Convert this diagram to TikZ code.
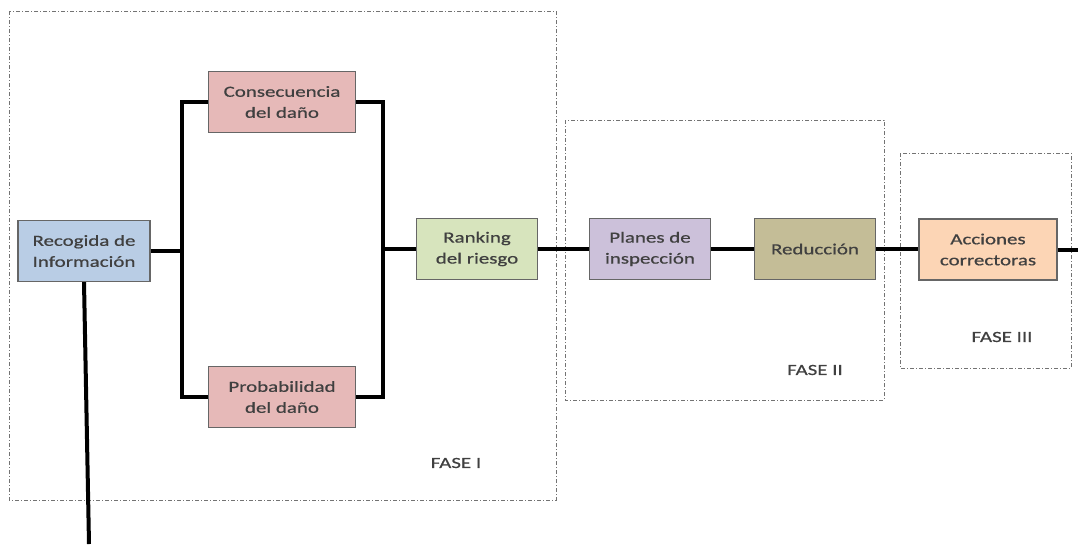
\documentclass[tikz,border=0pt]{standalone}
\usepackage{fontspec}
\setmainfont{Carlito}
\newfontfamily\boxfont[FakeStretch=1.35,FakeBold=0.6]{Carlito}
\begin{document}
\begin{tikzpicture}[x=1pt,y=-1pt,
  blk/.style={draw=black!60, line width=1.1pt, minimum width=#1, minimum height=61pt,
    inner sep=0pt, align=center, text=black!75,
    font=\boxfont\fontsize{15.5}{21}\selectfont},
  blk/.default=121pt,
  wire/.style={line width=4pt, black},
  phase/.style={draw=black!55, line width=0.9pt,
    dash pattern=on 4pt off 2pt on 1pt off 2pt},
  phaselabel/.style={text=black!75, font=\boxfont\fontsize{15.5}{18}\selectfont}]
  \useasboundingbox (0,0) rectangle (1078,544);

  % phase frames
  \draw[phase] (9,11) rectangle (556,500);
  \draw[phase] (565,120) rectangle (884,400);
  \draw[phase] (900,153) rectangle (1071,368);
  \node[phaselabel] (f1) at (456,463) {FASE I};
  \node[phaselabel] (f2) at (815,370) {FASE II};
  \node[phaselabel] (f3) at (1002,337) {FASE III};

  % blocks
  \node[blk=132pt, fill={rgb,255:red,185;green,205;blue,229}] (rec) at (84,251) {Recogida de\\Información};
  \node[blk=147pt, fill={rgb,255:red,230;green,185;blue,184}] (cons) at (282,102) {Consecuencia\\del daño};
  \node[blk=147pt, fill={rgb,255:red,230;green,185;blue,184}] (prob) at (282,397) {Probabilidad\\del daño};
  \node[blk, fill={rgb,255:red,215;green,228;blue,189}] (rank) at (477,249) {Ranking\\del riesgo};
  \node[blk, fill={rgb,255:red,204;green,193;blue,218}] (plan) at (650,249) {Planes de\\inspección};
  \node[blk, fill={rgb,255:red,196;green,189;blue,151}] (red) at (815,249) {Reducción};
  \node[blk=138pt, fill={rgb,255:red,252;green,213;blue,181}] (acc) at (988,249.5) {Acciones\\correctoras};

  % bus positions and free ends
  \coordinate (busL) at (182,0);
  \coordinate (busR) at (383,0);
  \coordinate (outR) at (1078,249.5);
  \coordinate (outD) at (89,544);

  % connectors
  \draw[wire] (rec.east) -- (rec.east -| busL);
  \draw[wire] (cons.west) -| (busL |- prob.west) -- (prob.west);
  \draw[wire] (cons.east) -| (busR |- prob.east) -- (prob.east);
  \draw[wire] (busR |- rank.west) -- (rank.west);
  \draw[wire] (rank.east) -- (plan.west);
  \draw[wire] (plan.east) -- (red.west);
  \draw[wire] (red.east) -- (red.east -| acc.west);
  \draw[wire] (acc.east) -- (outR);
  \draw[wire] (rec.south) -- (outD);
\end{tikzpicture}
\end{document}
